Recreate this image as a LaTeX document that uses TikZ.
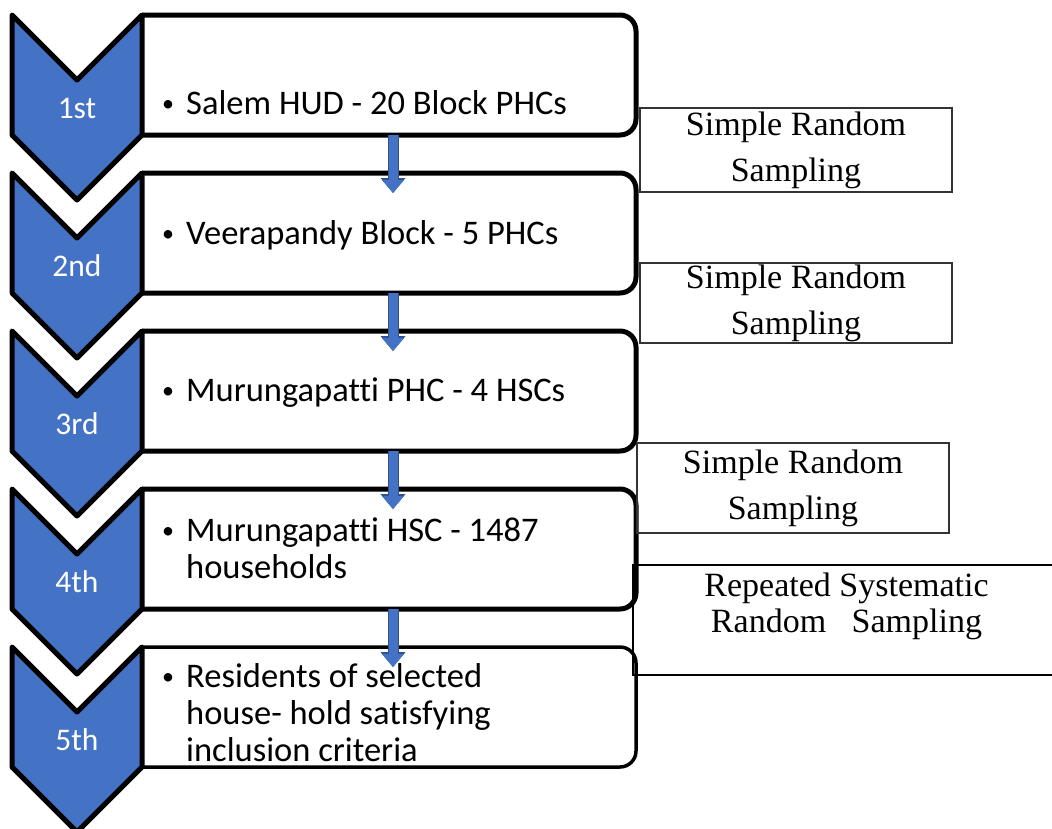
\documentclass[tikz,border=0pt]{standalone}
\usepackage{fontspec}
\setmainfont{Carlito}[Ligatures=NoCommon]
\newfontfamily\samplefont{Liberation Serif}
\usetikzlibrary{positioning,arrows.meta}
\definecolor{stepblue}{HTML}{4472C4}
\definecolor{arrowedge}{HTML}{2F528F}

\tikzstyle{stepbox} = [rectangle, minimum width=494pt, minimum height=120pt,
    inner sep=0pt, outer sep=0pt]
\tikzstyle{stepline} = [draw=black, rounded corners=16pt]
\tikzstyle{chevron} = [fill=stepblue, draw=black, line width=5pt, line join=round]
\tikzstyle{steplabel} = [text=white, inner sep=0pt, font=\fontsize{31.5}{37}\selectfont]
\tikzstyle{steptext} = [anchor=west, inner sep=0pt, font=\fontsize{34.5}{37}\selectfont]
\tikzstyle{flowarrow} = [stepblue, line width=9pt,
    -{Triangle[width=22pt,length=13pt,line width=0pt]},
    preaction={draw=arrowedge, line width=11pt,
      -{Triangle[width=25pt,length=15pt,line width=0pt]}}]
\tikzstyle{samplebox} = [draw=black!80, line width=2pt, minimum width=312pt,
    align=center, inner sep=0pt, font=\samplefont\fontsize{34}{46}\selectfont]

% bullet in its own column, so that wrapped lines stay indented
\newcommand{\bulletlines}[1]{%
  \begin{tabular}{@{}p{26pt}@{}l@{}}%
    \hspace{2pt}\raisebox{3pt}{\fontsize{24}{24}\selectfont\textbullet} & #1%
  \end{tabular}}

\begin{document}
\begin{tikzpicture}[x=1pt,y=-1pt]
\useasboundingbox (0,0) rectangle (1052,828);
\clip (0,0) rectangle (1052,828);

% the five stages, one under the other
\node [stepbox] (box1) at (389,75) {};
\node [stepbox, below=38pt of box1] (box2) {};
\node [stepbox, below=38pt of box2] (box3) {};
\node [stepbox, below=38pt of box3] (box4) {};
\node [stepbox, below=38pt of box4] (box5) {};

% outlines, rounded on the right only
\foreach \i/\w in {1/5,2/5,3/5,4/5,5/3.5}
  \draw [stepline, line width=\w pt] (box\i.north west) -- (box\i.north east)
    -- (box\i.south east) -- (box\i.south west);

% chevrons on the left
\foreach \i/\lab in {1/1st,2/2nd,3/3rd,4/4th,5/5th} {
  \draw [chevron] (box\i.north west) -- ++(-65,65) -- ++(-65,-65)
    -- ++(0,120) -- ++(65,65) -- ++(65,-65) -- cycle;
  \node [steplabel, anchor=base] (lab\i) at ([xshift=-65pt,yshift=-43.5pt]box\i.west) {\lab};
}

\node [steptext] (txt1) at ([xshift=18pt,yshift=-32pt]box1.west)
  {\bulletlines{Salem HUD - 20 Block PHCs}};
\node [steptext] (txt2) at ([xshift=18pt,yshift=-4pt]box2.west)
  {\bulletlines{Veerapandy Block - 5 PHCs}};
\node [steptext] (txt3) at ([xshift=18pt,yshift=-3pt]box3.west)
  {\bulletlines{Murungapatti PHC - 4 HSCs}};
\node [steptext] (txt4) at ([xshift=18pt,yshift=-3.5pt]box4.west)
  {\bulletlines{Murungapatti HSC - 1487\\ & households}};
\node [steptext] (txt5) at ([xshift=18pt,yshift=-10pt]box5.west)
  {\bulletlines{Residents of selected\\ & house- hold satisfying\\ & inclusion criteria}};

% down arrows between stages
\foreach \i/\j in {1/2,2/3,3/4,4/5}
  \draw [flowarrow] ([xshift=4pt]box\i.south) -- ([xshift=4pt,yshift=-20pt]box\j.north);

% sampling method at each step
\node [samplebox, minimum height=84pt] (samp1) at (796,150) {Simple Random\\Sampling};
\node [samplebox, minimum height=80pt] (samp2) at (796,303) {Simple Random\\Sampling};
\node [samplebox, minimum height=90pt] (samp3) at (793,488) {Simple Random\\Sampling};
\node [samplebox, draw=black, minimum width=427pt, minimum height=110pt] (samp4) at (846.5,620) {};
\node [samplebox, draw=none, anchor=north, font=\samplefont\fontsize{34}{36}\selectfont]
  (samp4txt) at ([yshift=-7.5pt]samp4.north) {Repeated Systematic\\Random\ \ \ Sampling};

\end{tikzpicture}
\end{document}
